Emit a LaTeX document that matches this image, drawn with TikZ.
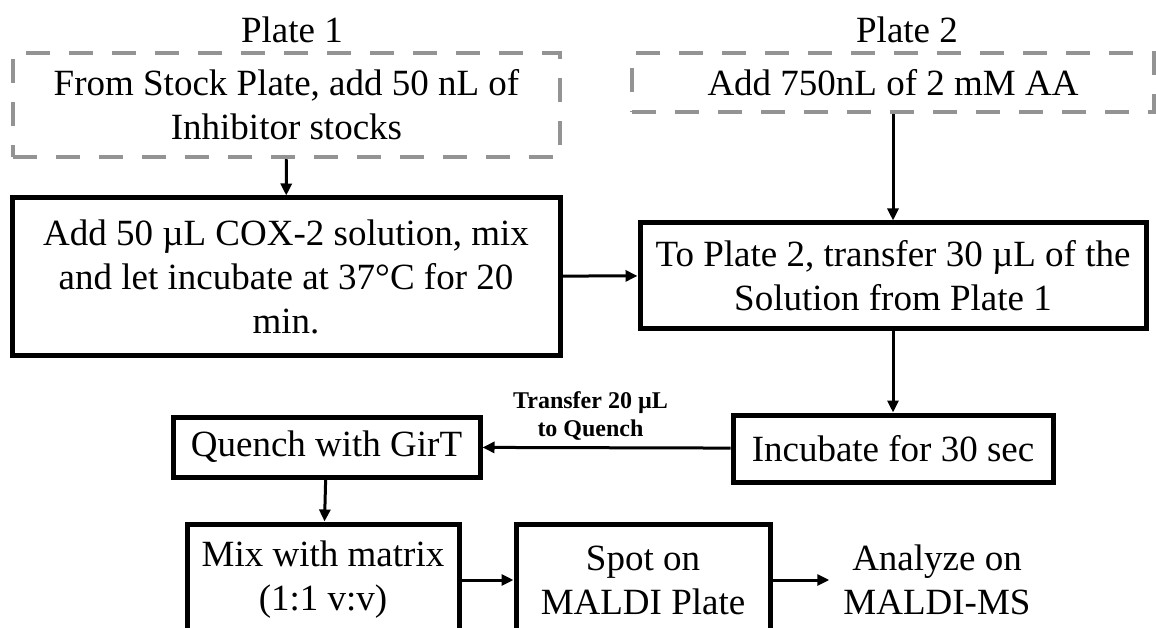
\documentclass[tikz,border=0pt]{standalone}
\usepackage{fontspec}
\setmainfont{Liberation Serif}
\usetikzlibrary{arrows.meta}

\begin{document}
\begin{tikzpicture}
  [x=1pt, y=-1pt,
   stepbox/.style={draw, line width=5pt, align=center, inner sep=0pt,
     font=\fontsize{37}{44}\selectfont},
   platebox/.style={stepbox, draw=gray!85, line width=4.5pt,
     dash pattern=on 24pt off 19pt},
   flow/.style={line width=3pt, -{Triangle[length=12pt,width=11pt]}}]
  \clip (0, 0) rectangle (1156, 628);
  \node[font=\fontsize{37}{44}\selectfont] (plateA) at (292, 30) {Plate 1};
  \node[font=\fontsize{37}{44}\selectfont] (plateB) at (907, 30) {Plate 2};
  % plate 1 column
  \node[platebox, minimum width=547pt, minimum height=104pt] (stock) at (286.5, 105)
    {From Stock Plate, add 50 nL of\\Inhibitor stocks};
  \node[stepbox, minimum width=548pt, minimum height=157pt] (cox) at (286, 276.5)
    {Add 50 µL COX-2 solution, mix\\and let incubate at 37°C for 20\\min.};
  % plate 2 column
  \node[platebox, minimum width=522pt, minimum height=59pt] (aa) at (893, 82.5)
    {Add 750nL of 2 mM AA};
  \node[stepbox, minimum width=506pt, minimum height=105pt] (move) at (893, 275.5)
    {To Plate 2, transfer 30 µL of the\\Solution from Plate 1};
  \node[stepbox, minimum width=320pt, minimum height=67pt] (incub) at (893, 448.5)
    {Incubate for 30 sec};
  % quench and MALDI
  \node[stepbox, minimum width=307pt, minimum height=60pt] (quench) at (326.5, 447)
    {Quench with GirT};
  \node[stepbox, minimum width=272pt, minimum height=112pt] (mix) at (323, 580)
    {Mix with matrix\\(1:1 v:v)};
  \node[stepbox, minimum width=254pt, minimum height=112pt] (spot) at (643, 580)
    {Spot on\\MALDI Plate};
  \node[align=center, inner sep=0pt, font=\fontsize{37}{44}\selectfont] (ms) at (937, 580)
    {Analyze on\\MALDI-MS};
  \draw[flow] (stock) -- (cox);
  \draw[flow] (aa) -- (move);
  \draw[flow] (cox) -- (move);
  \draw[flow] (move) -- (incub);
  \draw[flow] (incub) -- (quench)
    node[midway, above=3pt, xshift=-16pt, align=center,
      font=\fontsize{24}{28}\selectfont\bfseries] (lbl) {Transfer 20 µL\\to Quench};
  \draw[flow] (quench) -- (mix);
  \draw[flow] (mix) -- (spot);
  \draw[flow] (spot) -- ([xshift=-14pt]ms.west);
\end{tikzpicture}
\end{document}
